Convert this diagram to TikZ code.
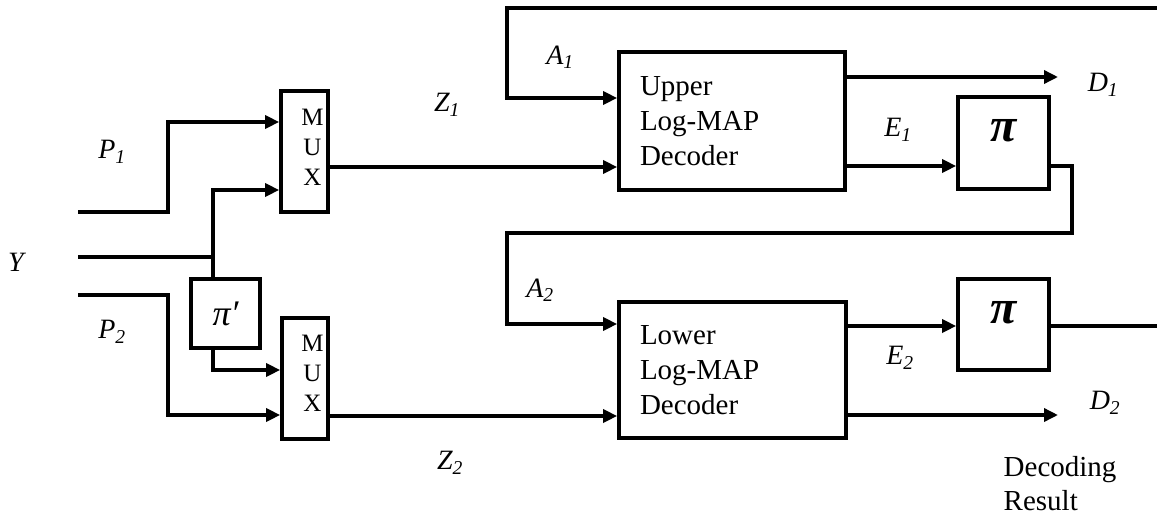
\documentclass[tikz,border=0pt]{standalone}
\usepackage{fontspec}
\setmainfont{Liberation Serif}
\usetikzlibrary{arrows.meta}
\begin{document}
\begin{tikzpicture}[x=1pt,y=-1pt,
  every path/.style={line width=3.4pt},
  arr/.style={-{Triangle[length=14pt,width=13pt]}},
  blk/.style={draw,line width=3.7pt,inner sep=0pt},
  lab/.style={font=\fontsize{28}{32}\selectfont\itshape,inner sep=0pt},
  txt/.style={font=\fontsize{29}{34}\selectfont,inner sep=0pt},
  muxt/.style={font=\fontsize{25}{30}\selectfont,align=center,inner sep=0pt},
  pit/.style={font=\fontsize{48}{52}\selectfont\bfseries\itshape,inner sep=0pt}]
\useasboundingbox (0,0) rectangle (1157,517);
% blocks
\node[blk,minimum width=47pt,minimum height=121pt] (mux1) at (304.5,151.5) {};
\node[blk,minimum width=46pt,minimum height=121pt] (mux2) at (305,378.5) {};
\node[muxt] (mux1t) at (312.5,147) {M\\U\\X};
\node[muxt] (mux2t) at (312.5,373) {M\\U\\X};
\node[blk,minimum width=69pt,minimum height=69pt,font=\fontsize{36}{40}\selectfont\itshape] (pip) at (225.5,313.5) {π′};
\node[blk,minimum width=226pt,minimum height=138pt,text width=184pt,inner xsep=21pt,align=left,font=\fontsize{29}{35}\selectfont] (up) at (732,121) {Upper\\Log-MAP\\Decoder};
\node[blk,minimum width=227pt,minimum height=136pt,text width=185pt,inner xsep=21pt,align=left,font=\fontsize{29}{35}\selectfont] (lo) at (732.5,370) {Lower\\Log-MAP\\Decoder};
\node[blk,minimum width=91pt,minimum height=92pt] (pi1) at (1003.5,143) {};
\node[blk,minimum width=91pt,minimum height=91pt] (pi2) at (1003.5,324.5) {};
\node[pit] (pi1t) at (1003.5,131) {π};
\node[pit] (pi2t) at (1003.5,313) {π};
% free ends
\coordinate (p1s) at (78,212);
\coordinate (ys) at (78,257);
\coordinate (p2s) at (78,295);
\coordinate (jy) at (213,257);
\coordinate (tr) at (1157,8);
\coordinate (rr) at (1157,326);
\coordinate (d1e) at (1058,77);
\coordinate (d2e) at (1058,415);
% connectors
\draw[arr] (p1s) -- (168,212) |- (mux1.west |- 0,122);
\draw (ys) -- (jy);
\draw[arr] (jy) |- (mux1.west |- 0,190);
\draw (jy) -- (pip.north -| jy);
\draw[arr] (pip.south -| jy) |- (mux2.west |- 0,370);
\draw[arr] (p2s) -- (168,295) |- (mux2.west |- 0,415);
\draw[arr] (mux1.east |- 0,167) -- (up.west |- 0,167);
\draw[arr] (mux2.east |- 0,416) -- (lo.west |- 0,416);
\draw[arr] (tr) -- (507,8) |- (up.west |- 0,98);
\draw[arr] (up.east |- 0,77) -- (d1e);
\draw[arr] (up.east |- 0,166) -- (pi1.west |- 0,166);
\draw[arr] (pi1.east |- 0,166) -- (1072,166) -- (1072,233) -- (507,233) |- (lo.west |- 0,324);
\draw[arr] (lo.east |- 0,326) -- (pi2.west |- 0,326);
\draw (pi2.east |- 0,326) -- (rr);
\draw[arr] (lo.east |- 0,415) -- (d2e);
% labels
\node[lab] (lp1) at (112,152) {P\textsubscript{1}};
\node[lab] (lp2) at (112,332) {P\textsubscript{2}};
\node[lab] (ly) at (16,262) {Y};
\node[lab] (lz1) at (447,105) {Z\textsubscript{1}};
\node[lab] (lz2) at (450,463) {Z\textsubscript{2}};
\node[lab] (la1) at (560,57) {A\textsubscript{1}};
\node[lab] (la2) at (540,290) {A\textsubscript{2}};
\node[lab] (le1) at (898,130) {E\textsubscript{1}};
\node[lab] (le2) at (900,358) {E\textsubscript{2}};
\node[lab] (ld1) at (1103,85) {D\textsubscript{1}};
\node[lab] (ld2) at (1105,403) {D\textsubscript{2}};
\node[txt,align=left,anchor=north west] (res) at (1002,455) {Decoding\\Result};
\end{tikzpicture}
\end{document}
